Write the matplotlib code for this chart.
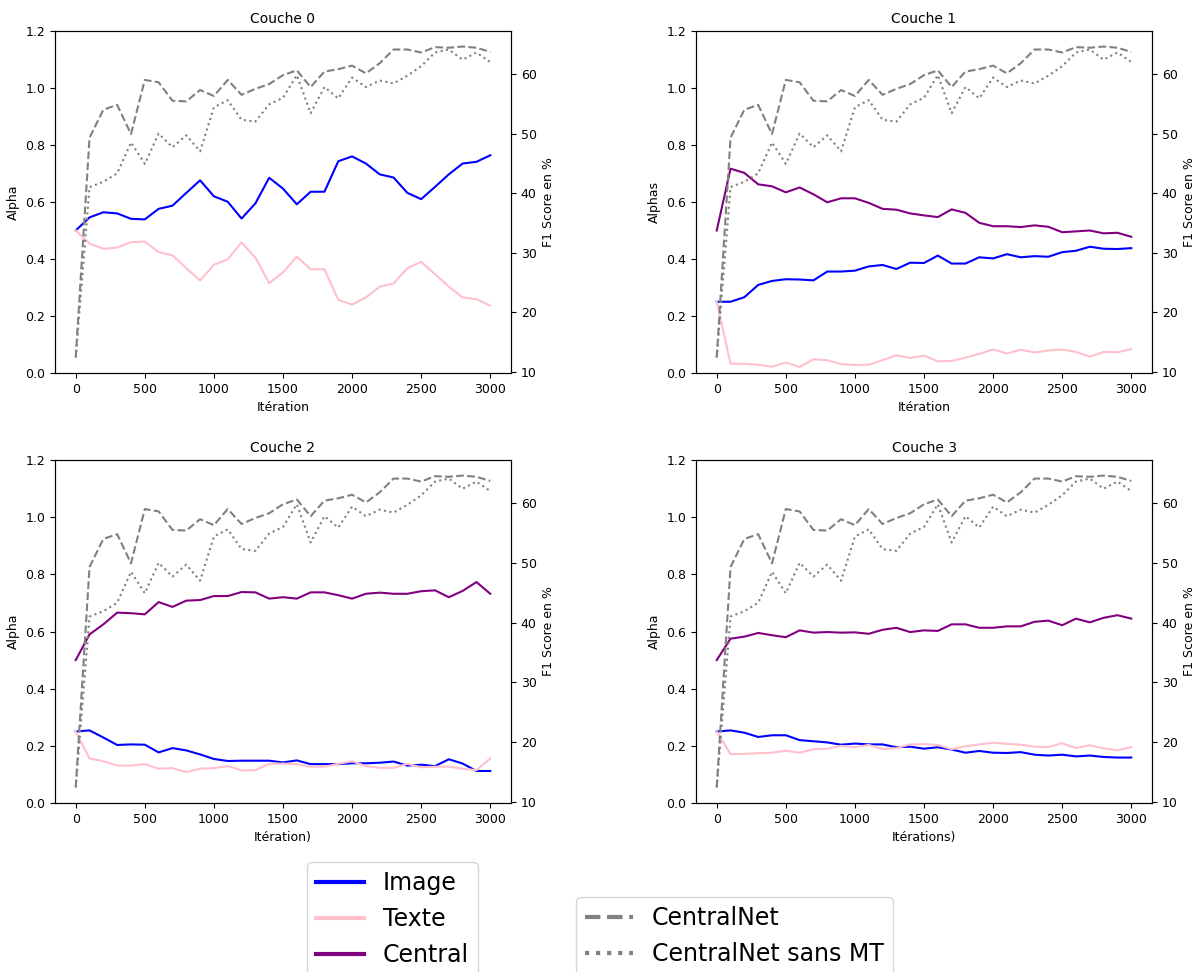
import matplotlib
matplotlib.use("Agg")
import matplotlib.pyplot as plt
from matplotlib.lines import Line2D

iterations = list(range(0, 3100, 100))

# F1 scores (same curves on every panel)
f1_centralnet = [12.4, 49.3, 54.0, 54.8, 49.9, 59.0, 58.6, 55.5, 55.4, 57.3,
                 56.3, 59.0, 56.5, 57.5, 58.3, 59.8, 60.6, 57.8, 60.4, 60.8,
                 61.4, 60.1, 61.8, 64.1, 64.1, 63.6, 64.5, 64.4, 64.6, 64.4, 63.7]
f1_sans_mt = [12.4, 41.0, 41.9, 43.3, 48.5, 44.9, 50.0, 47.7, 49.7, 47.0,
              54.4, 55.6, 52.3, 52.0, 54.9, 56.0, 59.8, 53.4, 57.8, 55.9,
              59.4, 57.8, 58.9, 58.4, 59.7, 61.3, 63.6, 64.1, 62.4, 63.6, 62.0]

# couche 0
image_0 = [0.500, 0.546, 0.564, 0.560, 0.541, 0.539, 0.576, 0.587, 0.632, 0.676,
           0.620, 0.601, 0.542, 0.595, 0.685, 0.647, 0.592, 0.636, 0.636, 0.743,
           0.760, 0.735, 0.697, 0.686, 0.632, 0.610, 0.653, 0.697, 0.735, 0.741, 0.764]
texte_0 = [0.500, 0.454, 0.436, 0.440, 0.459, 0.461, 0.424, 0.413, 0.368, 0.324,
           0.380, 0.399, 0.458, 0.405, 0.315, 0.353, 0.408, 0.364, 0.364, 0.257,
           0.240, 0.265, 0.303, 0.314, 0.368, 0.390, 0.347, 0.303, 0.265, 0.259, 0.236]

# couche 1
image_1 = [0.250, 0.250, 0.266, 0.309, 0.323, 0.329, 0.328, 0.325, 0.356, 0.356,
           0.359, 0.374, 0.379, 0.365, 0.387, 0.386, 0.412, 0.384, 0.384, 0.406,
           0.402, 0.417, 0.406, 0.410, 0.408, 0.424, 0.429, 0.443, 0.436, 0.435, 0.438]
texte_1 = [0.250, 0.033, 0.032, 0.029, 0.022, 0.037, 0.021, 0.048, 0.045, 0.031,
           0.028, 0.029, 0.045, 0.062, 0.053, 0.061, 0.041, 0.042, 0.054, 0.067,
           0.083, 0.068, 0.082, 0.072, 0.079, 0.082, 0.074, 0.057, 0.074, 0.073, 0.084]
central_1 = [0.500, 0.717, 0.702, 0.662, 0.655, 0.634, 0.651, 0.627, 0.599, 0.613,
             0.613, 0.597, 0.576, 0.573, 0.560, 0.553, 0.547, 0.574, 0.562, 0.527,
             0.515, 0.515, 0.512, 0.518, 0.513, 0.494, 0.497, 0.500, 0.490, 0.492, 0.478]

# couche 2
image_2 = [0.250, 0.254, 0.229, 0.203, 0.205, 0.204, 0.177, 0.192, 0.184, 0.170,
           0.154, 0.147, 0.148, 0.148, 0.148, 0.142, 0.149, 0.136, 0.136, 0.136,
           0.139, 0.139, 0.141, 0.145, 0.131, 0.134, 0.129, 0.153, 0.138, 0.112, 0.112]
texte_2 = [0.250, 0.156, 0.146, 0.131, 0.131, 0.136, 0.120, 0.122, 0.108, 0.120,
           0.122, 0.129, 0.114, 0.115, 0.137, 0.138, 0.136, 0.127, 0.127, 0.137,
           0.146, 0.129, 0.123, 0.123, 0.137, 0.125, 0.127, 0.127, 0.120, 0.115, 0.156]
central_2 = [0.500, 0.590, 0.625, 0.666, 0.664, 0.660, 0.703, 0.686, 0.708, 0.710,
             0.724, 0.724, 0.738, 0.737, 0.715, 0.720, 0.715, 0.737, 0.737, 0.727,
             0.715, 0.732, 0.736, 0.732, 0.732, 0.741, 0.744, 0.720, 0.742, 0.773, 0.732]

# couche 3
image_3 = [0.250, 0.254, 0.246, 0.231, 0.237, 0.237, 0.220, 0.216, 0.212, 0.204,
           0.208, 0.205, 0.205, 0.195, 0.197, 0.190, 0.195, 0.187, 0.176, 0.182,
           0.176, 0.175, 0.178, 0.169, 0.166, 0.169, 0.163, 0.166, 0.161, 0.159, 0.159]
texte_3 = [0.250, 0.171, 0.172, 0.174, 0.176, 0.183, 0.176, 0.188, 0.190, 0.200,
           0.195, 0.203, 0.189, 0.192, 0.205, 0.206, 0.203, 0.188, 0.199, 0.205,
           0.211, 0.207, 0.204, 0.197, 0.196, 0.209, 0.192, 0.202, 0.191, 0.184, 0.196]
central_3 = [0.500, 0.575, 0.582, 0.595, 0.587, 0.580, 0.604, 0.596, 0.598, 0.596,
             0.597, 0.592, 0.606, 0.613, 0.598, 0.604, 0.602, 0.625, 0.625, 0.613,
             0.613, 0.618, 0.618, 0.634, 0.638, 0.622, 0.645, 0.632, 0.648, 0.657, 0.645]

titles = ["Couche 0", "Couche 1", "Couche 2", "Couche 3"]
ylabels = ["Alpha", "Alphas", "Alpha", "Alpha"]
xlabels = ["Itération", "Itération", "Itération)", "Itérations)"]
images = [image_0, image_1, image_2, image_3]
textes = [texte_0, texte_1, texte_2, texte_3]
centrals = [None, central_1, central_2, central_3]

fig = plt.figure(figsize=(11.98, 9.72), dpi=100)
W, H = 1198.0, 972.0
# axes boxes in pixels: (left, top, right, bottom)
boxes = [(55, 31, 511, 373), (696, 31, 1152, 373),
         (55, 460, 511, 803), (696, 460, 1152, 803)]

for i in range(4):
    l, t, r, b = boxes[i]
    ax = fig.add_axes([l / W, 1 - b / H, (r - l) / W, (b - t) / H])
    ax.plot(iterations, images[i], color='blue')
    ax.plot(iterations, textes[i], color='pink')
    if centrals[i] is not None:
        ax.plot(iterations, centrals[i], color='purple')
    ax.set_ylim(0, 1.2)
    ax.set_title(titles[i], fontsize=10)
    ax.set_xlabel(xlabels[i], fontsize=9)
    ax.set_ylabel(ylabels[i], fontsize=9)
    ax.tick_params(labelsize=9)

    ax2 = ax.twinx()
    ax2.plot(iterations, f1_centralnet, color='gray', linestyle='--')
    ax2.plot(iterations, f1_sans_mt, color='gray', linestyle=':')
    ax2.set_ylabel("F1 Score en %", fontsize=9)
    ax2.tick_params(labelsize=9)

handles1 = [Line2D([], [], color='blue', lw=3),
            Line2D([], [], color='pink', lw=3),
            Line2D([], [], color='purple', lw=3)]
handles2 = [Line2D([], [], color='gray', lw=3, linestyle='--'),
            Line2D([], [], color='gray', lw=3, linestyle=':')]

fig.legend(handles1, ["Image", "Texte", "Central"], loc='upper left',
           bbox_to_anchor=(307 / W, 1 - 862 / H), borderaxespad=0,
           fontsize=17)
fig.legend(handles2, ["CentralNet", "CentralNet sans MT"], loc='upper left',
           bbox_to_anchor=(576 / W, 1 - 897 / H), borderaxespad=0,
           fontsize=17)

plt.savefig("out.png", dpi=100)
